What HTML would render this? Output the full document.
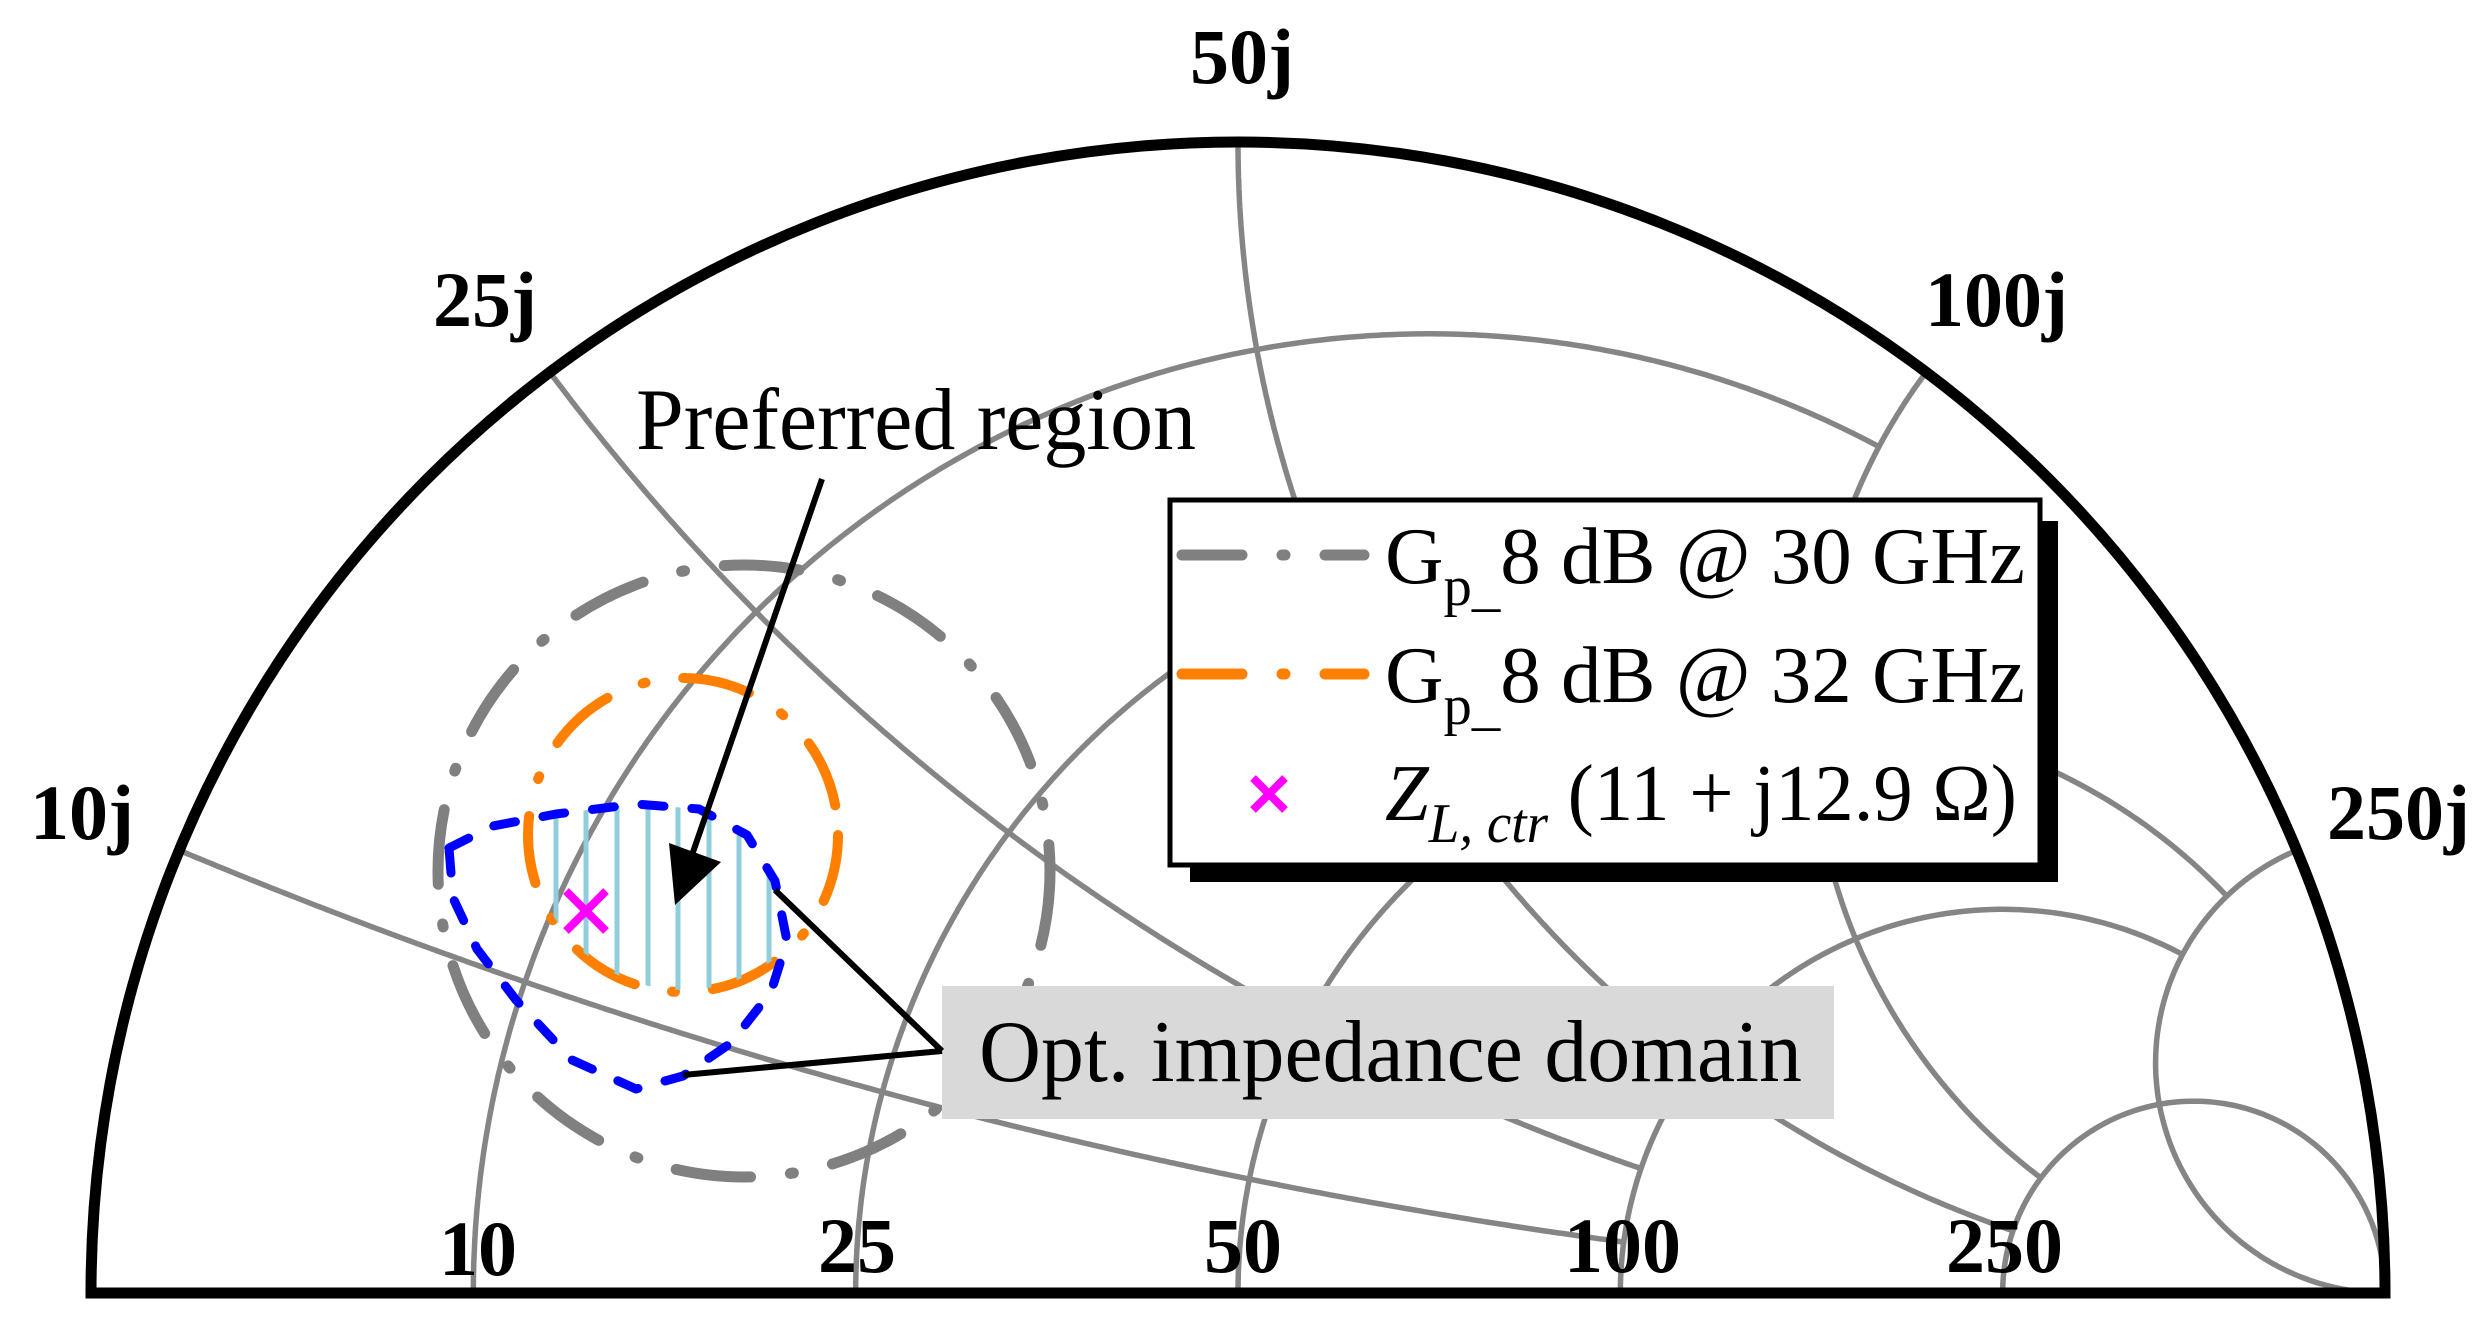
<!DOCTYPE html>
<html><head><meta charset="utf-8"><style>
html,body{margin:0;padding:0;background:#fff;}
svg{display:block;}
.lab{font-family:"Liberation Serif",serif;font-weight:bold;font-size:78px;fill:#000;}
.t{font-family:"Liberation Serif",serif;fill:#000;}
</style></head><body>
<svg id="s" width="2492" height="1329" viewBox="0 0 2492 1329" xmlns="http://www.w3.org/2000/svg">
<defs>
<clipPath id="cb"><polygon points="449,848 493,826 556,814 636,804 699,809 747,835 775,881 787,941 771,992 731,1043 683,1076 636,1089 572,1060 516,1000 477,949 453,898"/></clipPath>
<clipPath id="co"><ellipse cx="683" cy="835" rx="152" ry="155"/></clipPath>
</defs>
<g id="grid" fill="none" stroke="#858585" stroke-width="5.5"></g>
<path d="M 91 1293 A 1147 1151 0 0 1 2385 1293 Z" fill="none" stroke="#000" stroke-width="11"/>
<circle cx="744" cy="871" r="306" fill="none" stroke="#808080" stroke-width="11" stroke-linecap="round" stroke-dasharray="75 40 3 40"/>
<ellipse cx="683" cy="835" rx="155" ry="157" fill="none" stroke="#ff8000" stroke-width="10" stroke-linecap="round" stroke-dasharray="68 38 3 38"/>
<g clip-path="url(#cb)"><g clip-path="url(#co)" stroke="#92cddc" stroke-width="5">
<line x1="556" y1="700" x2="556" y2="1100"/><line x1="586" y1="700" x2="586" y2="1100"/>
<line x1="617" y1="700" x2="617" y2="1100"/><line x1="648" y1="700" x2="648" y2="1100"/>
<line x1="678" y1="700" x2="678" y2="1100"/><line x1="709" y1="700" x2="709" y2="1100"/>
<line x1="739" y1="700" x2="739" y2="1100"/><line x1="769" y1="700" x2="769" y2="1100"/>
</g></g>
<polygon points="449,848 493,826 556,814 636,804 699,809 747,835 775,881 787,941 771,992 731,1043 683,1076 636,1089 572,1060 516,1000 477,949 453,898" fill="none" stroke="#0000ff" stroke-width="9" stroke-linecap="round" stroke-linejoin="round" stroke-dasharray="22 28"/>
<g stroke="#ff00ff" stroke-width="8"><line x1="566" y1="891" x2="606" y2="931"/><line x1="606" y1="891" x2="566" y2="931"/></g>
<line x1="822" y1="479" x2="692" y2="855" stroke="#000" stroke-width="6"/>
<polygon points="675,905 669,843 721,862" fill="#000"/>
<rect x="942" y="986" width="892" height="133" fill="#d9d9d9"/>
<line x1="942" y1="1051" x2="775" y2="890" stroke="#000" stroke-width="6"/>
<line x1="942" y1="1051" x2="683" y2="1075" stroke="#000" stroke-width="6"/>
<text class="t" x="979" y="1081" font-size="88" textLength="823" lengthAdjust="spacingAndGlyphs">Opt. impedance domain</text>
<text class="t" x="636" y="449" font-size="88" textLength="560" lengthAdjust="spacingAndGlyphs">Preferred region</text>
<rect x="1190" y="521" width="868" height="361" fill="#000"/>
<rect x="1170" y="500" width="870" height="365" fill="#fff" stroke="#000" stroke-width="5"/>
<line x1="1182" y1="555" x2="1364" y2="555" stroke="#808080" stroke-width="11" stroke-linecap="round" stroke-dasharray="60 40 3 40"/>
<line x1="1182" y1="674" x2="1364" y2="674" stroke="#ff8000" stroke-width="11" stroke-linecap="round" stroke-dasharray="60 40 3 40"/>
<g stroke="#ff00ff" stroke-width="8"><line x1="1253" y1="778" x2="1285" y2="810"/><line x1="1285" y1="778" x2="1253" y2="810"/></g>
<text class="t" x="1385" y="583" font-size="80" textLength="640" lengthAdjust="spacingAndGlyphs">G<tspan font-size="56" dy="22">p_</tspan><tspan dy="-22">8 dB @ 30 GHz</tspan></text>
<text class="t" x="1385" y="702" font-size="80" textLength="640" lengthAdjust="spacingAndGlyphs">G<tspan font-size="56" dy="22">p_</tspan><tspan dy="-22">8 dB @ 32 GHz</tspan></text>
<text class="t" x="1385" y="820" font-size="80" textLength="632" lengthAdjust="spacingAndGlyphs"><tspan font-style="italic">Z</tspan><tspan font-style="italic" font-size="56" dy="22">L, ctr</tspan><tspan dy="-22"> (11 + j12.9 Ω)</tspan></text>
<text class="lab" x="1190" y="83">50j</text>
<text class="lab" x="433" y="326">25j</text>
<text class="lab" x="30" y="839">10j</text>
<text class="lab" x="1925" y="326">100j</text>
<text class="lab" x="2327" y="839">250j</text>
<text class="lab" x="439" y="1275">10</text>
<text class="lab" x="818" y="1272">25</text>
<text class="lab" x="1204" y="1272">50</text>
<text class="lab" x="1564" y="1272">100</text>
<text class="lab" x="1946" y="1272">250</text>
</svg>
<script>
(function(){
var g=document.getElementById('grid');
function P(r,x){var d=(r+1)*(r+1)+x*x;var u=(r*r+x*x-1)/d,v=2*x/d;return (1238+1147*u).toFixed(1)+','+(1293-1151*v).toFixed(1);}
function add(pts){var p=document.createElementNS('http://www.w3.org/2000/svg','polyline');p.setAttribute('points',pts.join(' '));g.appendChild(p);}
var R=[[0.2,2],[0.5,2],[1,5],[2,5],[5,1e5]];
R.forEach(function(a){var pts=[],m=Math.atan(a[1]);for(var i=0;i<=400;i++){pts.push(P(a[0],Math.tan(m*i/400)));}add(pts);});
R.forEach(function(a){var pts=[],m=Math.atan(a[1]);for(var i=0;i<=400;i++){pts.push(P(Math.tan(m*i/400),a[0]));}add(pts);});
})();
</script>
</body></html>
